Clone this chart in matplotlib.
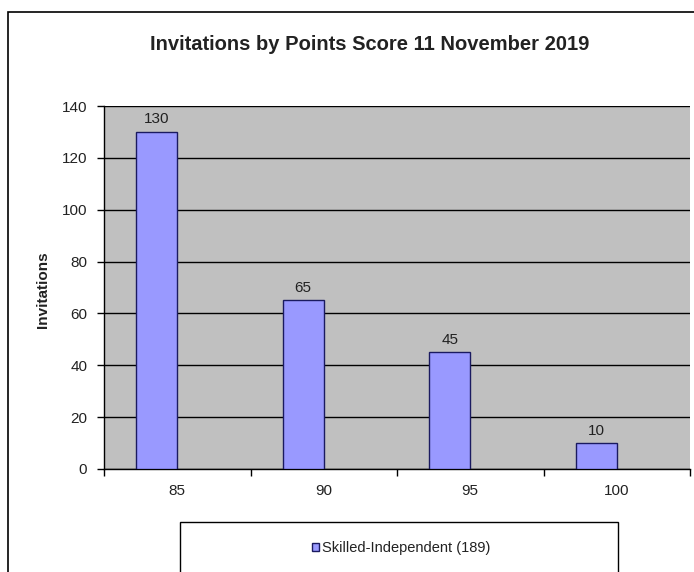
import numpy as np
import matplotlib.pyplot as plt
from matplotlib.patches import Rectangle

plt.rcParams['font.family'] = ['Liberation Sans', 'DejaVu Sans']

SCORES = ['85', '90', '95', '100']
INVITATIONS = [130, 65, 45, 10]
SERIES_NAME = 'Skilled-Independent (189)'
TITLE = 'Invitations by Points Score 11 November 2019'

BAR_COLOR = '#9999FF'
EDGE_COLOR = '#1a1a60'
PLOT_BG = '#C0C0C0'
TEXT_COLOR = '#222222'


def main():
    fig = plt.figure(figsize=(6.94, 5.72), dpi=100)
    # outer chart border
    fig.patches.append(Rectangle((8 / 694, -0.05), 1.0, 1 - 12 / 572 + 0.05,
                                 transform=fig.transFigure, fill=False,
                                 edgecolor='black', linewidth=1.2))
    ax = fig.add_axes([104 / 694, 1 - 469 / 572, 586 / 694, 363 / 572])
    ax.set_facecolor(PLOT_BG)

    x = np.arange(len(SCORES))
    bars = ax.bar(x, INVITATIONS, width=-0.28, align='edge',
                  color=BAR_COLOR, edgecolor=EDGE_COLOR, linewidth=1.0,
                  label=SERIES_NAME, zorder=3)
    for b, v in zip(bars, INVITATIONS):
        ax.annotate(str(v), (b.get_x() + b.get_width() / 2, v),
                    xytext=(0, 4), textcoords='offset points',
                    ha='center', va='bottom', fontsize=11, color=TEXT_COLOR)

    ax.set_xlim(-0.5, len(SCORES) - 0.5)
    ax.set_ylim(0, 140)
    ax.set_yticks(np.arange(0, 141, 20))
    ax.yaxis.grid(True, color='black', linewidth=1.0, zorder=1)
    ax.set_axisbelow(True)

    ax.set_xticks(x)
    ax.set_xticklabels(SCORES)
    ax.set_xticks(np.arange(-0.5, len(SCORES), 1.0), minor=True)
    ax.tick_params(axis='x', which='major', length=0, pad=11,
                   labelsize=11, labelcolor=TEXT_COLOR)
    ax.tick_params(axis='x', which='minor', length=5, width=1.0, direction='out')
    ax.tick_params(axis='y', length=5, width=1.0, direction='out',
                   labelsize=11, labelcolor=TEXT_COLOR, pad=7)

    for side in ['top', 'right']:
        ax.spines[side].set_visible(False)
    for side in ['left', 'bottom']:
        ax.spines[side].set_linewidth(1.0)
        ax.spines[side].set_color('black')

    fig.text(43 / 694, 1 - 290 / 572, 'Invitations', rotation=90,
             ha='center', va='center', fontsize=11, fontweight='bold',
             color=TEXT_COLOR)
    fig.text(370 / 694, 1 - 44 / 572, TITLE, ha='center', va='center',
             fontsize=14.5, fontweight='bold', color=TEXT_COLOR)

    # legend box
    fig.patches.append(Rectangle((180 / 694, -0.05), 438 / 694, 1 - 522 / 572 + 0.05,
                                 transform=fig.transFigure, facecolor='white',
                                 edgecolor='black', linewidth=1.0))
    leg = fig.legend(handles=[bars], labels=[SERIES_NAME], loc='center',
                     bbox_to_anchor=(401 / 694, 1 - 548 / 572), frameon=False,
                     fontsize=10.5, handlelength=0.5, handleheight=0.5,
                     handletextpad=0.15)
    for t in leg.get_texts():
        t.set_color(TEXT_COLOR)

    fig.savefig('out.png', dpi=100)


if __name__ == '__main__':
    main()
